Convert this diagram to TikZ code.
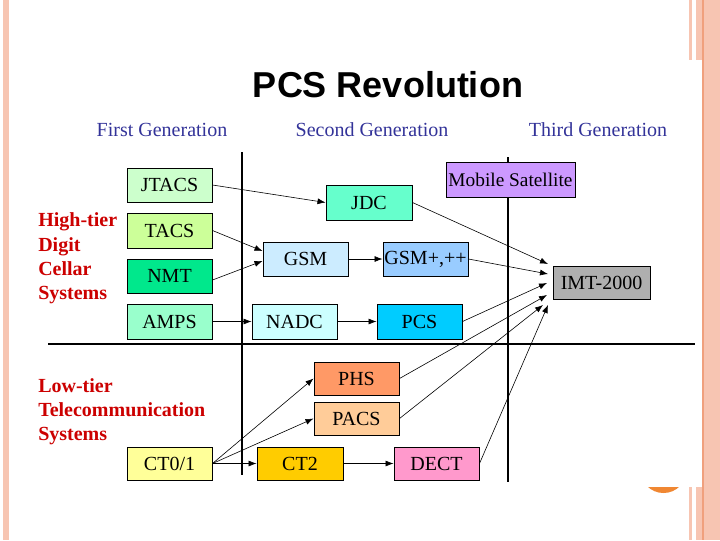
\documentclass[tikz,border=0pt]{standalone}
\usepackage{fontspec}
\setmainfont{Liberation Serif}
\newfontfamily\titlefont{Liberation Sans}
\usetikzlibrary{arrows.meta,calc}
\definecolor{hdrblue}{RGB}{51,51,153}
\definecolor{lblred}{RGB}{204,0,0}
\definecolor{peach}{RGB}{247,197,178}
\definecolor{peachdark}{RGB}{240,160,125}
\definecolor{orangedot}{RGB}{240,135,50}
\definecolor{cJTACS}{RGB}{204,255,204}
\definecolor{cTACS}{RGB}{204,255,153}
\definecolor{cNMT}{RGB}{0,232,140}
\definecolor{cAMPS}{RGB}{153,255,204}
\definecolor{cJDC}{RGB}{102,255,204}
\definecolor{cGSM}{RGB}{204,236,255}
\definecolor{cGSMp}{RGB}{153,204,255}
\definecolor{cNADC}{RGB}{204,255,255}
\definecolor{cPCS}{RGB}{0,204,255}
\definecolor{cSAT}{RGB}{204,153,255}
\definecolor{cIMT}{RGB}{175,175,175}
\definecolor{cPHS}{RGB}{255,153,102}
\definecolor{cPACS}{RGB}{255,204,153}
\definecolor{cCT01}{RGB}{255,255,153}
\definecolor{cCT2}{RGB}{255,204,0}
\definecolor{cDECT}{RGB}{255,153,204}
\begin{document}
\begin{tikzpicture}[x=0.75pt,y=-0.75pt,
  box/.style={draw=black, line width=0.75pt, inner sep=0pt,
    font=\fontsize{15}{17}\selectfont, minimum width=#1*0.75pt},
  box/.default=85,
  ht/.style={minimum height=#1*0.75pt},
  hdr/.style={text=hdrblue, font=\fontsize{15}{18}\selectfont, anchor=base, inner sep=0pt},
  redlbl/.style={text=lblred, font=\fontsize{15}{18.3}\selectfont\bfseries, align=left, anchor=north west, inner sep=0pt},
  rule/.style={line width=0.8pt, draw=black},
  conn/.style={-{Latex[length=6pt,width=4.5pt]}, line width=0.45pt, draw=black}
]
\useasboundingbox (0,0) rectangle (720,540);
\fill[white] (0,0) rectangle (720,540);
% slide decoration
\fill[peach] (3,0) rectangle (9,540);
\fill[peach] (702,0) rectangle (720,540);
\fill[peachdark] (702,0) rectangle (704,540);
\fill[peach] (689,0) rectangle (692,60);
\fill[peach] (696,0) rectangle (702,60);
\fill[peach] (689,487) rectangle (692,540);
\fill[peach] (696,487) rectangle (702,540);
\begin{scope}
  \clip (640,487) rectangle (690,500);
  \fill[orangedot] (663.5,470) circle[radius=23];
\end{scope}
% title and headers
\node[font=\titlefont\fontsize{27}{32}\selectfont\bfseries, anchor=base, inner sep=0pt] (title) at (388,97) {PCS Revolution};
\node[hdr] (g1) at (162,136) {First Generation};
\node[hdr] (g2) at (372,136) {Second Generation};
\node[hdr] (g3) at (598,136) {Third Generation};
% dividers
\draw[rule] (242,152) -- (242,475);
\draw[rule] (508,157) -- (508,482);
\draw[rule] (48,344) -- (695,344);
% side labels
\node[redlbl] (high) at (38,212.5) {High-tier\\Digit\\Cellar\\Systems};
\node[redlbl, font=\fontsize{15}{18}\selectfont\bfseries] (low) at (38,378.5) {Low-tier\\Telecommunication\\Systems};
% boxes
\node[box, ht=34, fill=cJTACS] (JTACS) at (169.5,185) {JTACS};
\node[box, ht=35, fill=cTACS] (TACS) at (169.5,230.5) {TACS};
\node[box, ht=34, fill=cNMT] (NMT) at (169.5,276) {NMT};
\node[box, ht=35, fill=cAMPS] (AMPS) at (169.5,321.5) {AMPS};
\node[box=86, ht=35, fill=cJDC] (JDC) at (369,202.5) {JDC};
\node[box, ht=34, fill=cGSM] (GSM) at (305.5,259) {GSM};
\node[box, ht=34, fill=cGSMp] (GSMp) at (425.5,259) {GSM+,++};
\node[box, ht=35, fill=cNADC] (NADC) at (294.5,321.5) {NADC};
\node[box, ht=35, fill=cPCS] (PCS) at (419.5,321.5) {PCS};
\node[box=129, ht=35, fill=cSAT, font=\fontsize{14.5}{17}\selectfont] (SAT) at (510.5,179.5) {Mobile Satellite};
\node[box=97, ht=33, fill=cIMT] (IMT) at (601.5,282.5) {IMT-2000};
\node[box, ht=33, fill=cPHS] (PHS) at (356.5,378.5) {PHS};
\node[box, ht=33, fill=cPACS] (PACS) at (356.5,418.5) {PACS};
\node[box, ht=33, fill=cCT01] (CT01) at (169.5,463.5) {CT0/1};
\node[box=86, ht=33, fill=cCT2] (CT2) at (300,463.5) {CT2};
\node[box, ht=33, fill=cDECT] (DECT) at (436.5,463.5) {DECT};
% arrow targets at IMT-2000
\coordinate (i1) at (548,264);
\coordinate (i2) at (548,274);
\coordinate (i3) at (547,283);
\coordinate (i4) at (547,295);
\coordinate (i5) at (543,305);
\coordinate (i6) at (548,305);
% connectors
\draw[conn] (JTACS.east) -- (JDC.west);
\draw[conn] (TACS.east) -- ([yshift=6pt]GSM.west);
\draw[conn] ([yshift=-3pt]NMT.east) -- ([yshift=-1.5pt]GSM.west);
\draw[conn] (AMPS.east) -- (NADC.west);
\draw[conn] (GSM.east) -- (GSMp.west);
\draw[conn] (NADC.east) -- (PCS.west);
\draw[conn] (JDC.east) -- (i1);
\draw[conn] (GSMp.east) -- (i2);
\draw[conn] (PCS.east) -- (i3);
\draw[conn] (PHS.east) -- (i4);
\draw[conn] (PACS.east) -- (i5);
\draw[conn] (DECT.east) -- (i6);
\draw[conn] (CT01.east) -- (PHS.west);
\draw[conn] (CT01.east) -- (PACS.west);
\draw[conn] (CT01.east) -- (CT2.west);
\draw[conn] (CT2.east) -- (DECT.west);
\end{tikzpicture}
\end{document}
